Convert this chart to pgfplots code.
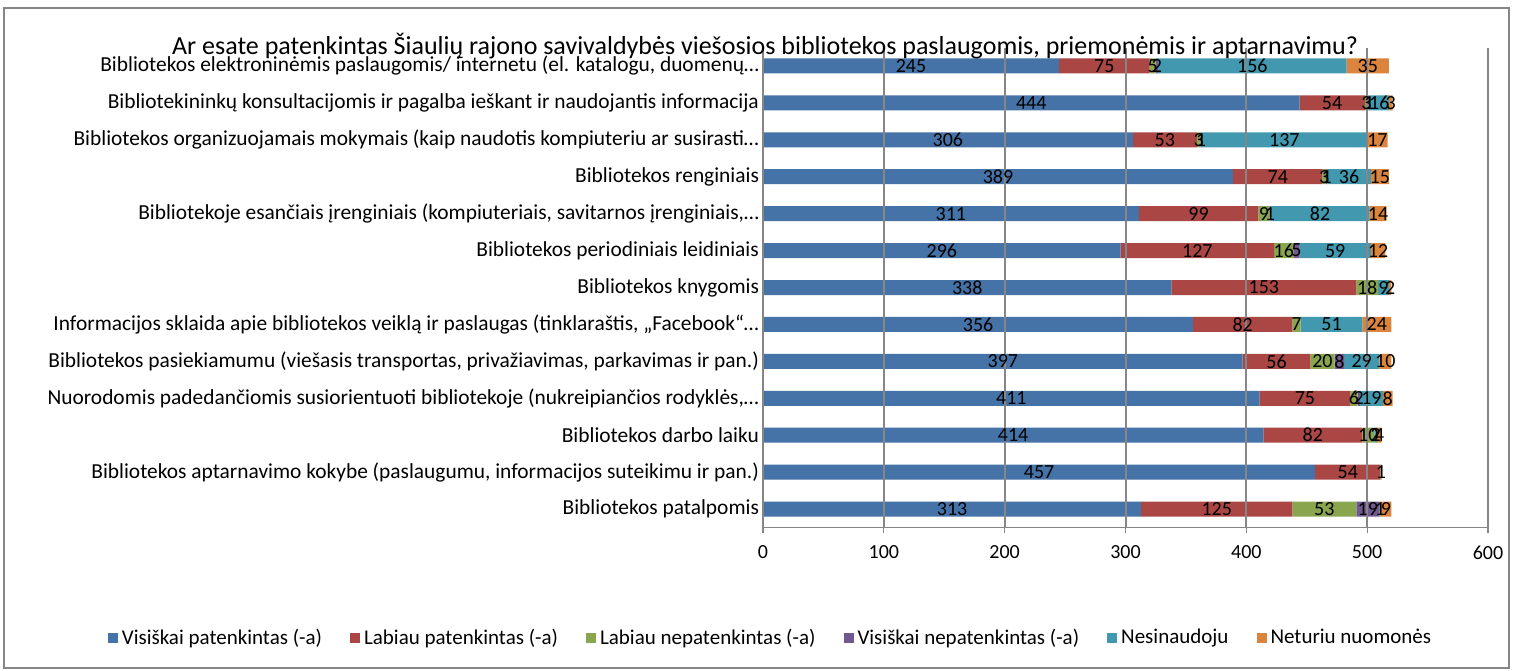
\documentclass[border=0pt]{standalone}
\usepackage{fontspec}
\setmainfont{Carlito}
\usepackage{pgfplots}
\usepackage{pgfplotstable}
\pgfplotsset{compat=1.18}
\definecolor{c1}{HTML}{4572A7}
\definecolor{c2}{HTML}{AA4643}
\definecolor{c3}{HTML}{89A54E}
\definecolor{c4}{HTML}{71588F}
\definecolor{c5}{HTML}{4198AF}
\definecolor{c6}{HTML}{DB843D}
\definecolor{gridgray}{HTML}{868686}
\pgfplotstableread{
i v1 v2 v3 v4 v5 v6
0 313 125 53 19 1 9
1 457 54 1 0 0 0
2 414 82 10 0 2 4
3 411 75 6 2 19 8
4 397 56 20 8 29 10
5 356 82 7 0 51 24
6 338 153 18 0 9 2
7 296 127 16 5 59 12
8 311 99 9 1 82 14
9 389 74 3 1 36 15
10 306 53 3 1 137 17
11 444 54 3 1 16 3
12 245 75 5 2 156 35
}\data
\newcommand\lab{\fontsize{10}{11}\selectfont}
\newcommand\cat{\fontsize{10.7}{12}\selectfont}
\pgfplotsset{
  seg/.style={
    fill=#1, draw=none,
    nodes near coords={\pgfmathprintnumber{\pgfplotspointmeta}},
    point meta=explicit,
    every node near coord/.append style={anchor=center, font=\lab, text=black, inner sep=0pt},
  },
}
\begin{document}
\begin{tikzpicture}
\path[use as bounding box] (0pt,0pt) rectangle (756.5pt,-335pt);
\draw[gridgray, line width=0.6pt] (2pt,-4pt) rectangle (754.5pt,-334pt);
\begin{axis}[
  at={(381.5pt,-263.75pt)}, anchor=south west,
  scale only axis, width=362.5pt, height=240pt,
  xbar stacked, bar width=7.5pt,
  xmin=0, xmax=600, ymin=-0.5, ymax=12.5,
  xtick={0,100,...,600},
  ytick={0,...,12},
  yticklabels={
    {Bibliotekos patalpomis},
    {Bibliotekos aptarnavimo kokybe (paslaugumu, informacijos suteikimu ir pan.)},
    {Bibliotekos darbo laiku},
    {Nuorodomis padedančiomis susiorientuoti bibliotekoje (nukreipiančios rodyklės,…},
    {Bibliotekos pasiekiamumu (viešasis transportas, privažiavimas, parkavimas ir pan.)},
    {Informacijos sklaida apie bibliotekos veiklą ir paslaugas (tinklaraštis, „Facebook“…},
    {Bibliotekos knygomis},
    {Bibliotekos periodiniais leidiniais},
    {Bibliotekoje esančiais įrenginiais (kompiuteriais, savitarnos įrenginiais,…},
    {Bibliotekos renginiais},
    {Bibliotekos organizuojamais mokymais (kaip naudotis kompiuteriu ar susirasti…},
    {Bibliotekininkų konsultacijomis ir pagalba ieškant ir naudojantis informacija},
    {Bibliotekos elektroninėmis paslaugomis/ internetu (el. katalogu, duomenų…}
  },
  minor ytick={-0.5,0.5,...,12.5},
  axis x line*=bottom, axis y line*=left,
  axis line style={gridgray, line width=0.6pt},
  every tick/.style={gridgray, line width=0.6pt},
  tick align=outside,
  major tick length=2.5pt,
  ytick style={draw=none},
  minor tick length=3pt,
  xmajorgrids, major grid style={gridgray, line width=1pt},
  axis on top,
  ticklabel style={font=\lab, text=black},
  xticklabel style={yshift=-3pt},
  yticklabel style={font=\cat, xshift=4pt},
  /pgf/number format/assume math mode=true,
  title={Ar esate patenkintas Šiaulių rajono savivaldybės viešosios bibliotekos paslaugomis, priemonėmis ir aptarnavimu?},
  title style={at={(0.003,1.005)}, anchor=center, yshift=-6.5pt, font=\fontsize{13}{14}\selectfont, inner sep=0pt},
  legend style={at={(0.0117,-0.2302)}, anchor=center, draw=none, font=\fontsize{10.5}{12}\selectfont, legend columns=6,
    /tikz/every even column/.append style={column sep=12pt}},
  legend cell align=left,
  legend image code/.code={\fill[#1] (0pt,-2.5pt) rectangle (5pt,2.5pt);},
]
\addplot[seg=c1] table[x=v1, y=i, meta=v1] {\data};
\addplot[seg=c2] table[x=v2, y=i, meta=v2] {\data};
\addplot[seg=c3] table[x=v3, y=i, meta=v3] {\data};
\addplot[seg=c4] table[x=v4, y=i, meta=v4] {\data};
\addplot[seg=c5] table[x=v5, y=i, meta=v5] {\data};
\addplot[seg=c6] table[x=v6, y=i, meta=v6] {\data};
\legend{Visiškai patenkintas (-a), Labiau patenkintas (-a), Labiau nepatenkintas (-a), Visiškai nepatenkintas (-a), Nesinaudoju, Neturiu nuomonės}
\end{axis}
\end{tikzpicture}
\end{document}
